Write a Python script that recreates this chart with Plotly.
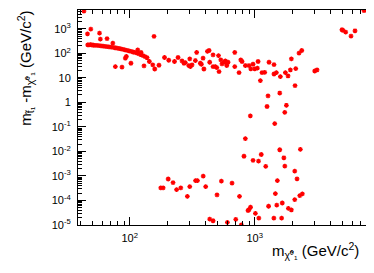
import plotly.graph_objects as go

# neutralino mass (GeV/c^2)
m_chi = [43, 48.8, 45.9, 57.3, 58.2, 65.8, 73.2, 156.4,
         46.1, 47.2, 48.6, 49.9, 51.3, 52.7, 54.7, 56.8, 58.9, 61.1, 63.4, 65.8, 68.2, 70.8,
         73.5, 76.3, 79.1, 82.1, 85.1, 88.3, 91.6, 95.1, 98.7, 102.4, 106.2, 110.2, 114.4,
         118.7, 123.1, 127.8, 132.6, 137.6,
         92.2, 93.9, 102.2, 76.7, 86.7, 115.8, 123.1, 130, 143.5, 152.8, 158.5, 171.3, 189.7,
         205.1, 228, 243.4, 261.8, 271.6, 278.3, 302, 296.5, 305.5, 315, 335, 343, 367, 374,
         386, 392, 418, 431, 436, 464, 464, 484, 497, 513, 518, 535, 547, 568, 582, 597, 611,
         597, 692, 692, 749, 773, 791, 841, 900, 930, 969, 1000, 1063, 1050, 1109, 1143, 1202,
         1301, 1426, 1426, 1489, 1603, 1758, 1846, 1927, 1963, 2128, 2261, 2377, 3020, 3150,
         4990, 5080, 5340, 5890, 6340, 7480, 7810, 8170,
         1277, 1254, 1585, 1791, 1738, 922, 1445, 2100, 841, 820, 969, 1072, 1127, 1224, 1585,
         1710, 1740, 2317, 2089, 2179, 1517, 541, 658, 499, 755, 1462, 1290, 1500, 1660, 925,
         900, 884, 1857, 1963, 2089, 2291, 2404, 1012, 1078, 1422, 1640, 436, 464, 604, 705, 781,
         177, 185, 203, 222, 237, 256, 289, 302, 336, 348, 387, 405]

# stop - neutralino mass difference (GeV/c^2)
dm = [5200, 970, 620, 667, 379, 395, 259, 488,
      221, 221, 224, 218, 214, 210, 209, 205, 199, 195, 190, 186, 182, 178,
      173, 168, 162, 157, 152, 145, 138, 132, 126, 119, 113, 108, 101,
      94.5, 87.5, 80, 73, 66,
      63.0, 73.9, 39.3, 28.8, 27.2, 138, 108, 30.5, 46.2, 33.5, 22.9, 32.6, 67.3,
      52, 46.2, 67.3, 48.8, 39.3, 42.0, 58.9, 31.7, 28.8, 33.5, 50.7, 108, 39.3, 35.8,
      63, 22.9, 119, 130, 43.2, 85.9, 28.8, 28.8, 26.2, 80, 18, 53.7, 36.8, 43.2, 48.8, 39.3, 43.2,
      31.7, 108, 28.8, 16.3, 53.7, 46.2, 31.7, 31.7, 23.3, 35.8, 23.3, 46.2, 25, 7.67, 16.3, 16.8,
      43.2, 34.6, 14.3, 16.3, 11.2, 16.3, 11.9, 20.9, 58.9, 23.8, 101, 130, 19, 20.9,
      910, 859, 732, 502, 828, 5470, 5830, 6010,
      1.83, 0.679, 2.4, 0.76, 0.39, 0.282, 0.136, 4.79, 0.0331, 0.00636, 0.00428, 0.00404,
      0.0075, 0.00247, 0.0117, 0.0055, 0.0025, 0.0122, 0.00157, 0.00076, 0.000648, 0.000612,
      0.000507, 0.000168, 0.000146, 0.00019, 5.8e-5, 6.5e-5, 7.9e-5, 5.3e-5,
      4.2e-5, 3.9e-5, 4.8e-5, 4.1e-5, 0.000108, 0.000157, 0.000185, 3.0e-5, 1.9e-5, 1.9e-5,
      1.9e-5, 1.74e-5, 1.49e-5, 1.28e-5, 1.7e-5, 1.0e-5,
      0.000325, 0.000325, 0.00075, 0.00053, 0.000277, 0.000325, 0.000146, 0.000368,
      0.000648, 0.000648, 0.00098, 0.000368]

y_tickvals = [1e-5, 1e-4, 1e-3, 1e-2, 1e-1, 1, 10, 1e2, 1e3]
y_ticktext = ["10<sup>-5</sup>", "10<sup>-4</sup>", "10<sup>-3</sup>", "10<sup>-2</sup>",
              "10<sup>-1</sup>", "1", "10", "10<sup>2</sup>", "10<sup>3</sup>"]
x_tickvals = [1e2, 1e3]
x_ticktext = ["10<sup>2</sup>", "10<sup>3</sup>"]

x_title = "m<sub>χ̃⁰₁</sub> (GeV/c<sup>2</sup>)"
y_title = "m<sub>t̃₁</sub> -m<sub>χ̃⁰₁</sub> (GeV/c<sup>2</sup>)"

FONT = "Liberation Sans"

fig = go.Figure()
fig.add_trace(go.Scatter(
    x=m_chi, y=dm, mode="markers",
    marker=dict(symbol="asterisk", size=4, color="#ff0000",
                line=dict(color="#ff0000", width=1.3)),
    showlegend=False,
))

axis_common = dict(
    type="log", showgrid=False, zeroline=False,
    showline=True, linecolor="black", linewidth=1, mirror="ticks",
    ticks="inside", tickcolor="black", tickwidth=1,
    tickfont=dict(family=FONT, size=11, color="black"),
)

fig.update_xaxes(**axis_common, range=[1.586, 3.954],
                 tickvals=x_tickvals, ticktext=x_ticktext, ticklen=8,
                 minor=dict(ticks="inside", ticklen=4, dtick="D1", tickcolor="black"),
                 ticklabelstandoff=3)
fig.update_yaxes(**axis_common, range=[-5.0, 3.765],
                 tickvals=y_tickvals, ticktext=y_ticktext, ticklen=8,
                 minor=dict(ticks="inside", ticklen=4, dtick="D1", tickcolor="black"),
                 ticklabelstandoff=4)

fig.add_annotation(text=x_title, xref="paper", yref="paper", x=0.648, y=-0.12,
                   xanchor="left", yanchor="middle", showarrow=False,
                   font=dict(family=FONT, size=15, color="black"))
fig.add_annotation(text=y_title, xref="paper", yref="paper", x=-0.178, y=0.728,
                   xanchor="center", yanchor="middle", showarrow=False, textangle=-90,
                   font=dict(family=FONT, size=15, color="black"))

fig.update_layout(
    width=374, height=273, autosize=False,
    margin=dict(l=70, r=8, t=2, b=56),
    paper_bgcolor="white", plot_bgcolor="white",
    font=dict(family=FONT),
)

fig.write_html("out.html")
